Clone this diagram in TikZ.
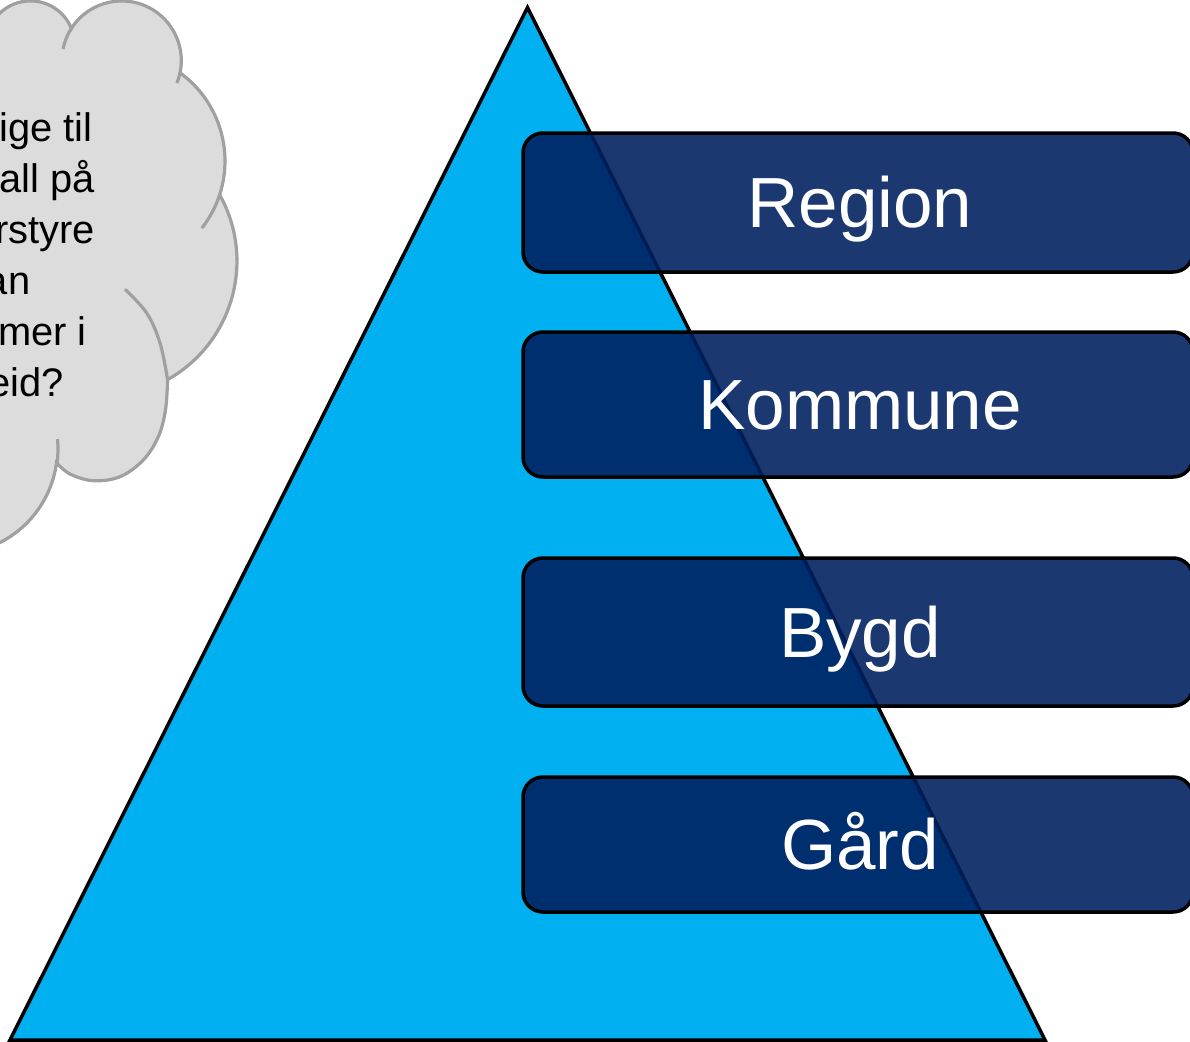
\documentclass[tikz,border=0pt]{standalone}
\usepackage{fontspec}
\setmainfont{Liberation Sans}
\definecolor{triblue}{HTML}{00B0F0}
\definecolor{boxblue}{HTML}{002060}
\definecolor{cloudfill}{HTML}{DCDCDC}
\definecolor{cloudgray}{HTML}{A0A0A0}
\tikzset{
  tri/.style={fill=triblue, draw=black, line width=3.5bp, line join=miter},
  levelbox/.style={draw=black, line width=3.5bp, fill=boxblue, fill opacity=0.89,
    text opacity=1, text=white, rounded corners=20bp, minimum width=670bp,
    inner sep=0pt, text height=50.8bp, text depth=0pt,
    font=\fontsize{71.3}{80}\selectfont},
  cloudshape/.style={fill=cloudfill, draw=cloudgray, line width=3.2bp},
  cloudspur/.style={draw=cloudgray, line width=3.2bp},
  cloudtext/.style={anchor=base east, inner sep=0pt, text=black,
    font=\fontsize{40}{46}\selectfont}
}
\begin{document}
\begin{tikzpicture}[x=1bp,y=1bp,yscale=-1]
\useasboundingbox (0,0) rectangle (1190,1042);
\clip (0,0) rectangle (1190,1042);

% cloud
\path[cloudshape] (-200,45.2) -- (-13.9,45.2)
  arc[start angle=180, end angle=337.7, radius=44.3]
  arc[start angle=212.7, end angle=371.8, radius=59.7]
  arc[start angle=-54, end angle=18, radius=109]
  arc[start angle=-29.2, end angle=60.7, radius=136]
  -- plot[smooth, tension=0.6] coordinates {(167.6,379.6) (165.5,410) (158.3,436.7) (143.3,460) (120,476.7) (93.3,480.7) (70,474) (56.5,462.8)}
  arc[start angle=7.6, end angle=95, radius=105]
  -- (-200,560) -- cycle;
\draw[cloudspur] (121.6,60.6) ++(191.2:59.7) arc[start angle=191.2, end angle=212.7, radius=59.7];
\draw[cloudspur] (121.6,60.6) ++(11.8:59.7) arc[start angle=11.8, end angle=22, radius=59.7];
\draw[cloudspur] (116,161) ++(18:109) arc[start angle=18, end angle=38, radius=109];
\draw[cloudspur] plot[smooth, tension=0.6] coordinates {(125,289.3) (146.7,313) (160,343) (167.6,379.6)};
\draw[cloudspur] (-47,449) ++(-5.4:105) arc[start angle=-5.4, end angle=7.6, radius=105];

\node[cloudtext] (t1) at (92.5,141) {ige til};
\node[cloudtext] (t2) at (95,192) {all på};
\node[cloudtext] (t3) at (95,243) {rstyre};
\node[cloudtext] (t4) at (30.5,294) {an};
\node[cloudtext] (t5) at (87,345) {mer i};
\node[cloudtext] (t6) at (64,396) {eid?};

% pyramid
\coordinate (apex) at (527.5,7.5);
\coordinate (bl) at (10,1040);
\coordinate (br) at (1045,1040);
\draw[tri] (apex) -- (bl) -- (br) -- cycle;

% level boxes
\node[levelbox, minimum height=139bp] (region) at (858,202.5) {\hspace*{4bp}Region};
\node[levelbox, minimum height=145bp] (kommune) at (858,404.5) {\hspace*{4bp}Kommune};
\node[levelbox, minimum height=148bp] (bygd) at (858,632) {\hspace*{4bp}Bygd};
\node[levelbox, minimum height=135bp] (gard) at (858,844.5) {\hspace*{4bp}Gård};
\end{tikzpicture}
\end{document}
